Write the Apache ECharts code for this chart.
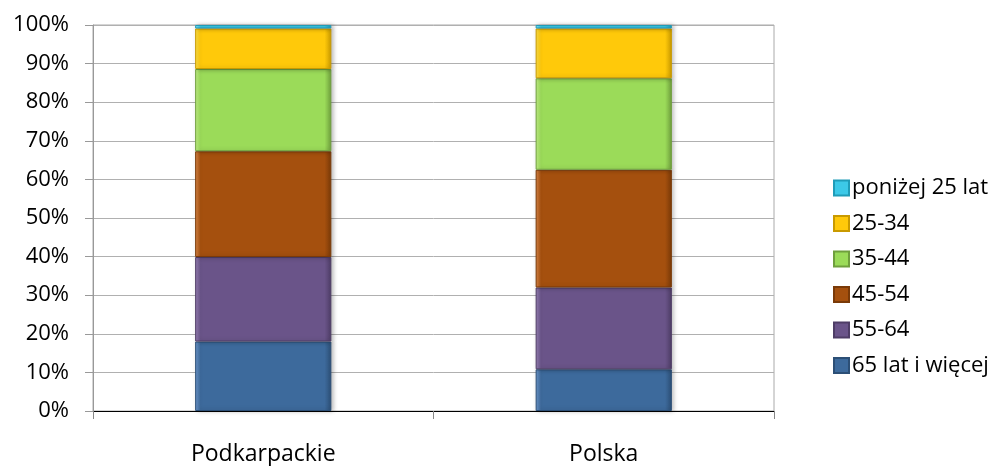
<!DOCTYPE html>
<html><head><meta charset="utf-8">
<script src="https://cdn.jsdelivr.net/npm/echarts@6/dist/echarts.min.js"></script>
<style>html,body{margin:0;padding:0;background:#fff}#c{width:999px;height:466px}</style>
</head><body><div id="c"></div>
<script>
const categories = ['Podkarpackie', 'Polska'];
const seriesNames = ['65 lat i więcej', '55-64', '45-54', '35-44', '25-34', 'poniżej 25 lat'];
const v65plus = [18.0, 10.8];
const v55_64 = [21.9, 21.2];
const v45_54 = [27.4, 30.5];
const v35_44 = [21.3, 23.7];
const v25_34 = [10.5, 12.9];
const vUnder25 = [0.9, 0.9];
const yTicks = [0, 10, 20, 30, 40, 50, 60, 70, 80, 90, 100];

const values = [v65plus, v55_64, v45_54, v35_44, v25_34, vUnder25];
const colors = ['#3d6a9c', '#6a5489', '#a5500e', '#9bdb59', '#ffc90a', '#3cc9e8'];
const lights = ['#6f9ad0', '#9a83b8', '#e08a4a', '#c6f58a', '#ffe34a', '#7fe6fa'];
const borders = ['#2c4f76', '#4e3d66', '#7a3a08', '#6f9f3d', '#c99a00', '#1f9cb8'];
const FONT = 'Open Sans';

const chart = echarts.init(document.getElementById('c'), null, {renderer: 'canvas'});
chart.setOption({
  animation: false,
  backgroundColor: '#fff',
  textStyle: {fontFamily: FONT},
  grid: {left: 93, right: 225, top: 25, bottom: 53, show: true, borderColor: '#aaaaaa', borderWidth: 1},
  legend: {
    orient: 'vertical', left: 828, top: 172,
    data: seriesNames.slice().reverse(),
    itemWidth: 15, itemHeight: 15, itemGap: 13.5,
    icon: 'rect',
    textStyle: {fontFamily: FONT, fontSize: 22, color: '#000', lineHeight: 22, padding: [0,0,0,-2]}
  },
  xAxis: {
    type: 'category', data: categories,
    axisLine: {lineStyle: {color: '#000', width: 1}},
    axisTick: {show: true, length: 8, lineStyle: {color: '#888'}},
    axisLabel: {fontFamily: FONT, fontSize: 23, color: '#000', margin: 32}
  },
  yAxis: {
    type: 'value', min: yTicks[0], max: yTicks[yTicks.length-1], interval: 10,
    axisLine: {show: true, lineStyle: {color: '#999'}},
    axisTick: {show: true, length: 8, lineStyle: {color: '#999'}},
    axisLabel: {fontFamily: FONT, fontSize: 22, color: '#000', margin: 24, formatter: '{value}%'},
    splitLine: {lineStyle: {color: '#b0b0b0'}}
  },
  series: seriesNames.map((n, i) => ({
    name: n, type: 'bar', stack: 'all', barWidth: '40%',
    data: values[i],
    itemStyle: {
      color: {type: 'linear', x: 0, y: 0, x2: 1, y2: 0, colorStops: [
        {offset: 0, color: lights[i]}, {offset: 0.04, color: colors[i]}, {offset: 0.95, color: colors[i]}, {offset: 1, color: borders[i]}]},
      borderColor: borders[i], borderWidth: 1,
      shadowColor: 'rgba(0,0,0,0.25)', shadowBlur: 4, shadowOffsetX: 2
    }
  }))
});
</script></body></html>
